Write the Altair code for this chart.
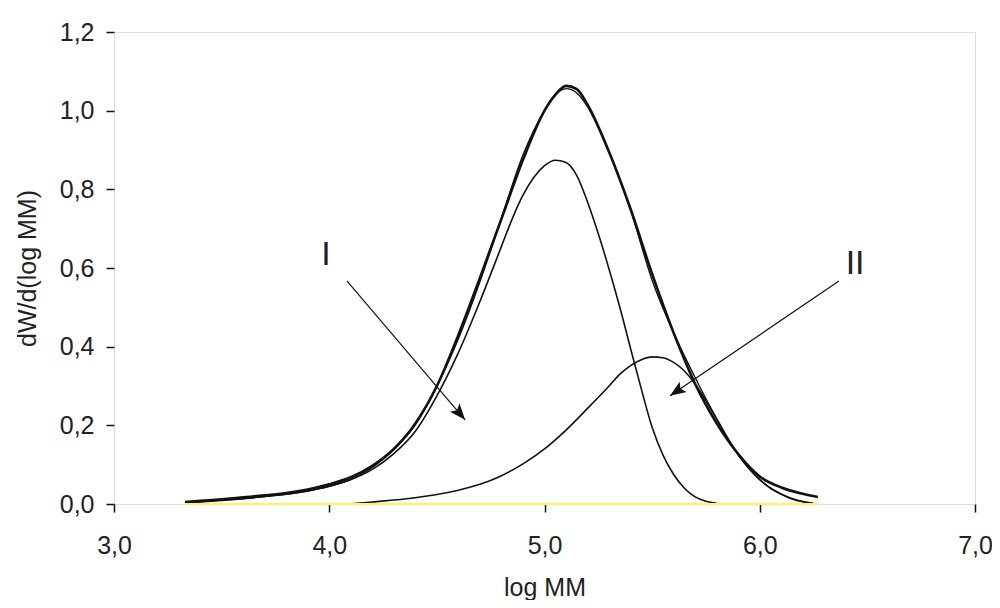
import altair as alt
import pandas as pd

# Experimental total distribution (thick, noisy curve)
total_x = [3.33, 3.4, 3.5, 3.6, 3.7, 3.8, 3.9, 4.0, 4.1, 4.2, 4.3, 4.4, 4.5, 4.6, 4.7, 4.8,
           4.9, 5.0, 5.05, 5.1, 5.15, 5.2, 5.3, 5.4, 5.5, 5.6, 5.7, 5.8, 5.9, 6.0, 6.1, 6.2, 6.27]
total_y = [0.005, 0.008, 0.012, 0.017, 0.022, 0.028, 0.037, 0.050, 0.068, 0.097, 0.140, 0.205,
           0.300, 0.430, 0.575, 0.725, 0.875, 1.000, 1.040, 1.063, 1.055, 1.015, 0.895, 0.750,
           0.585, 0.435, 0.305, 0.205, 0.127, 0.070, 0.042, 0.026, 0.018]

# Fitted sum (I + II), nearly on top of the experimental curve
fit_x = [3.35, 3.5, 3.7, 3.9, 4.0, 4.1, 4.2, 4.3, 4.4, 4.5, 4.6, 4.7, 4.8, 4.9, 5.0, 5.05,
         5.1, 5.15, 5.2, 5.3, 5.4, 5.5, 5.6, 5.7, 5.8, 5.9, 6.0, 6.1, 6.2, 6.22]
fit_y = [0.003, 0.009, 0.019, 0.033, 0.045, 0.062, 0.093, 0.138, 0.201, 0.299, 0.420, 0.565,
         0.727, 0.887, 1.000, 1.040, 1.056, 1.045, 1.010, 0.895, 0.747, 0.569, 0.435, 0.321,
         0.217, 0.125, 0.062, 0.025, 0.006, 0.003]

# Component I
comp1_x = [3.33, 3.5, 3.7, 3.9, 4.0, 4.1, 4.2, 4.3, 4.4, 4.5, 4.6, 4.7, 4.8, 4.85, 4.9, 4.95,
           5.0, 5.05, 5.1, 5.15, 5.2, 5.25, 5.3, 5.35, 5.4, 5.45, 5.5, 5.55, 5.6, 5.65, 5.7,
           5.75, 5.8]
comp1_y = [0.004, 0.010, 0.019, 0.033, 0.045, 0.062, 0.088, 0.128, 0.185, 0.275, 0.385, 0.515,
           0.655, 0.725, 0.785, 0.830, 0.860, 0.874, 0.868, 0.835, 0.768, 0.687, 0.597, 0.500,
           0.395, 0.292, 0.195, 0.125, 0.075, 0.040, 0.018, 0.007, 0.002]

# Component II
comp2_x = [4.09, 4.2, 4.3, 4.4, 4.5, 4.6, 4.7, 4.8, 4.9, 5.0, 5.1, 5.2, 5.3, 5.35, 5.4, 5.45,
           5.5, 5.55, 5.6, 5.65, 5.7, 5.75, 5.8, 5.85, 5.9, 5.95, 6.0, 6.05, 6.1, 6.15, 6.2, 6.25]
comp2_y = [0.000, 0.005, 0.010, 0.016, 0.024, 0.035, 0.050, 0.072, 0.102, 0.140, 0.188, 0.243,
           0.300, 0.330, 0.352, 0.367, 0.374, 0.372, 0.360, 0.338, 0.305, 0.262, 0.215, 0.168,
           0.125, 0.090, 0.062, 0.040, 0.025, 0.013, 0.006, 0.002]

# Yellow baseline
base_x = [3.33, 6.27]
base_y = [0.0, 0.0]

# Annotations
label_text = ["I", "II"]
label_x = [3.985, 6.443]
label_y = [0.633, 0.610]
arrow_x = [4.082, 6.368]
arrow_y = [0.567, 0.567]
arrow_x2 = [4.631, 5.583]
arrow_y2 = [0.214, 0.275]
arrow_angle = [139.7, 235.8]

x_ticks = [3, 4, 5, 6, 7]
y_ticks = [0, 0.2, 0.4, 0.6, 0.8, 1.0, 1.2]

FONT = "Liberation Sans"
TXT = "#222222"
LINE = "#111111"
fmt = "replace(format(datum.value, '.1f'), '.', ',')"

xscale = alt.Scale(domain=[3, 7], nice=False, zero=False)
yscale = alt.Scale(domain=[0, 1.2], nice=False, zero=False)

xaxis = alt.Axis(values=x_ticks, labelExpr=fmt, title="log MM", domain=False, grid=False,
                 tickSize=8, tickColor=LINE, tickWidth=1.5, labelFont=FONT, labelFontSize=25,
                 labelColor=TXT, labelPadding=21, labelFlush=False, labelOverlap=False,
                 titleFont=FONT, titleFontSize=25, titleFontWeight="normal", titleColor=TXT,
                 titlePadding=17)
yaxis = alt.Axis(values=y_ticks, labelExpr=fmt, title="dW/d(log MM)", domain=False, grid=False,
                 tickSize=8, tickColor=LINE, tickWidth=1.5, labelFont=FONT, labelFontSize=25,
                 labelColor=TXT, labelPadding=12, labelFlush=False, labelOverlap=False,
                 titleFont=FONT, titleFontSize=25, titleFontWeight="normal", titleColor=TXT,
                 titlePadding=19)

def curve(xs, ys, width):
    df = pd.DataFrame({"x": xs, "y": ys})
    return alt.Chart(df).mark_line(color=LINE, strokeWidth=width, interpolate="monotone").encode(
        x=alt.X("x:Q", scale=xscale, axis=xaxis),
        y=alt.Y("y:Q", scale=yscale, axis=yaxis),
    )

base_df = pd.DataFrame({"x": base_x, "y": base_y})
baseline = alt.Chart(base_df).mark_line(color="#fdf55a", strokeWidth=2).encode(
    x=alt.X("x:Q", scale=xscale), y=alt.Y("y:Q", scale=yscale))

ann = pd.DataFrame({"text": label_text, "lx": label_x, "ly": label_y,
                    "ax": arrow_x, "ay": arrow_y, "ax2": arrow_x2, "ay2": arrow_y2,
                    "angle": arrow_angle})

labels = alt.Chart(ann).mark_text(font=FONT, fontSize=34, color=TXT).encode(
    x=alt.X("lx:Q", scale=xscale), y=alt.Y("ly:Q", scale=yscale), text="text:N")

shafts = alt.Chart(ann).mark_rule(color=LINE, strokeWidth=1.2).encode(
    x=alt.X("ax:Q", scale=xscale), y=alt.Y("ay:Q", scale=yscale),
    x2="ax2:Q", y2="ay2:Q")

heads = alt.Chart(ann).mark_point(
    shape="M0,0L0.55,1.4L0,1.1L-0.55,1.4Z", filled=True, color=LINE, opacity=1,
    size=520, strokeWidth=0.5).encode(
    x=alt.X("ax2:Q", scale=xscale), y=alt.Y("ay2:Q", scale=yscale),
    angle=alt.Angle("angle:Q", scale=None))

chart = alt.layer(
    curve(comp1_x, comp1_y, 1.6),
    curve(comp2_x, comp2_y, 1.6),
    curve(fit_x, fit_y, 1.4),
    curve(total_x, total_y, 2.6),
    baseline,
    shafts,
    heads,
    labels,
).properties(
    width=861, height=472,
    autosize=alt.AutoSizeParams(type="none"),
    padding={"left": 106, "top": 24, "right": 17, "bottom": 96},
).configure_view(stroke="#222222", strokeWidth=1.5).configure(background="white")

chart.save("out.html", embed_options={"renderer": "svg", "actions": False})
